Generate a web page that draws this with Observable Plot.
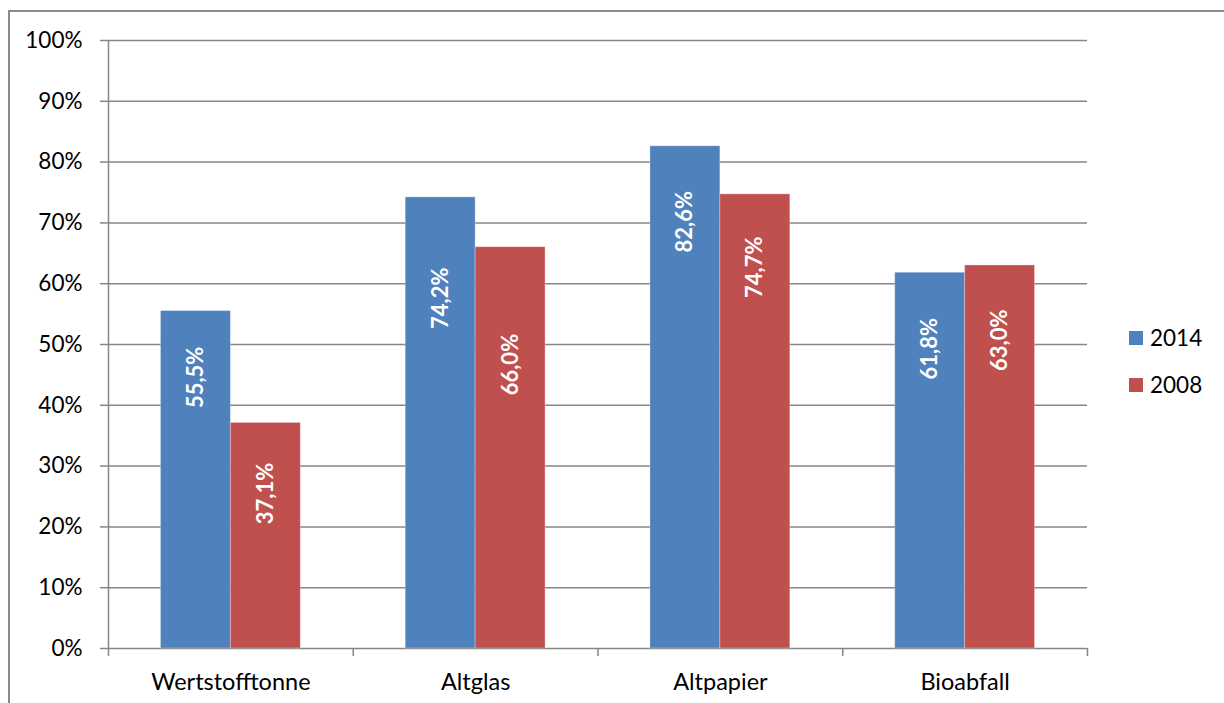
<!DOCTYPE html>
<html>
<head>
<meta charset="utf-8">
<script src="https://cdn.jsdelivr.net/npm/d3@7"></script>
<script src="https://cdn.jsdelivr.net/npm/@observablehq/plot@0.6"></script>
<style>
  html, body { margin: 0; padding: 0; background: #fff; }
  #wrap { position: relative; width: 1224px; height: 703px; overflow: hidden; font-family: Lato, "Open Sans", sans-serif; }
  #frame { position: absolute; left: 8px; top: 10px; width: 1400px; height: 800px; border-top: 2px solid #8a8a8a; border-left: 2px solid #8a8a8a; }
  #chart { position: absolute; left: 0; top: 0; }
  #legend { position: absolute; left: 1129px; top: 326px; font-size: 22.5px; color: #000; line-height: 24px; }
  #legend .item { display: flex; align-items: center; height: 24px; margin-bottom: 23px; }
  #legend .sw { width: 14px; height: 14px; margin-right: 7px; }
</style>
</head>
<body>
<div id="wrap">
  <div id="frame"></div>
  <div id="chart"></div>
  <div id="legend"></div>
</div>
<script>
// ---- data ----
const categories = ["Wertstofftonne", "Altglas", "Altpapier", "Bioabfall"];
const years = ["2014", "2008"];
const values2014 = [55.5, 74.2, 82.6, 61.8];
const values2008 = [37.1, 66.0, 74.7, 63.0];
// vertical centre of each value label (in % on the y axis)
const labelAt2014 = [44.6, 57.6, 70.2, 49.3];
const labelAt2008 = [25.5, 46.7, 62.7, 50.7];
const yTicks = [0, 10, 20, 30, 40, 50, 60, 70, 80, 90, 100];
const colors = ["#4F81BD", "#C0504D"];

// ---- layout helpers ----
const barShare = 0.2857; // bar width as share of a category band (gap width 150%)
const rows = categories.flatMap((c, i) => [
  {cat: c, year: years[0], value: values2014[i], labelAt: labelAt2014[i], x1: i + 0.5 - barShare, x2: i + 0.5},
  {cat: c, year: years[1], value: values2008[i], labelAt: labelAt2008[i], x1: i + 0.5, x2: i + 0.5 + barShare}
]);
const fmt = v => v.toFixed(1).replace(".", ",") + "%";
const grey = "#868686";

const chart = Plot.plot({
  width: 1224,
  height: 703,
  marginLeft: 108,
  marginRight: 137,
  marginTop: 40,
  marginBottom: 55,
  style: {fontFamily: "Lato, 'Open Sans', sans-serif", fontSize: "22.5px", color: "#000", background: "transparent", overflow: "visible"},
  x: {domain: [0, categories.length], axis: null},
  y: {domain: [0, 100], axis: null},
  color: {domain: years, range: colors},
  marks: [
    Plot.gridY(yTicks, {stroke: grey, strokeOpacity: 1, strokeWidth: 1.5}),
    Plot.axisY(yTicks, {tickSize: 8, tickPadding: 18, tickFormat: d => d + "%", stroke: grey, strokeWidth: 1.5, fill: "#000", fontSize: 22.5}),
    Plot.axisX(d3.range(categories.length + 1), {tickSize: 8, tickFormat: () => "", stroke: grey, strokeWidth: 1.5}),
    Plot.axisX(categories.map((c, i) => i + 0.5), {tickSize: 0, tickPadding: 25, tickFormat: d => categories[Math.floor(d)], fill: "#000", fontSize: 23.5}),
    Plot.ruleX([0], {stroke: grey, strokeWidth: 1.5}),
    Plot.rectY(rows, {x1: "x1", x2: "x2", y: "value", fill: "year", stroke: "white", strokeOpacity: 0.3, strokeWidth: 1}),
    Plot.text(rows, {x: d => (d.x1 + d.x2) / 2, y: "labelAt", text: d => fmt(d.value), rotate: -90, fill: "white", fontWeight: "bold", fontSize: 22})
  ]
});
document.getElementById("chart").append(chart);

// legend (right side, HTML)
const legend = document.getElementById("legend");
years.forEach((y, i) => {
  const item = document.createElement("div");
  item.className = "item";
  const sw = document.createElement("div");
  sw.className = "sw";
  sw.style.background = colors[i];
  const t = document.createElement("span");
  t.textContent = y;
  item.append(sw, t);
  legend.append(item);
});
</script>
</body>
</html>
